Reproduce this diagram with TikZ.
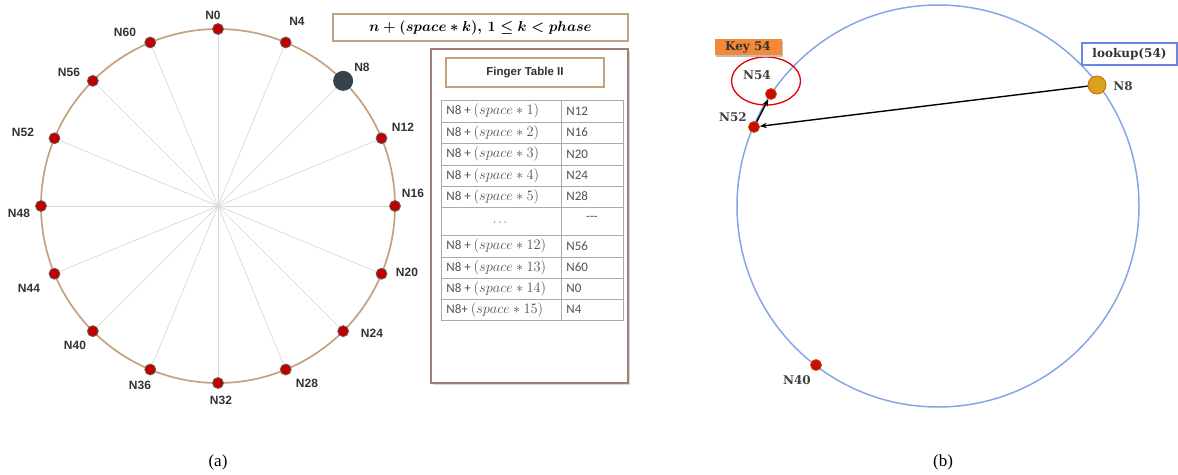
\documentclass[tikz,border=0pt]{standalone}
\usepackage{amsmath}
\usepackage{fontspec}
\setmainfont{Liberation Serif}
\setsansfont{Liberation Sans}
\newfontfamily\cellfont{Carlito}
\newfontfamily\chordserif{DejaVu Serif}
\usetikzlibrary{shapes.geometric,arrows.meta}

\definecolor{ringtan}{HTML}{C4A27E}
\definecolor{spokegray}{HTML}{D3DAD7}
\definecolor{dotred}{HTML}{C00000}
\definecolor{slate}{HTML}{36424C}
\definecolor{framerose}{HTML}{A67C78}
\definecolor{ringblue}{HTML}{86A6E4}
\definecolor{keyorange}{HTML}{F4893A}
\definecolor{lookgold}{HTML}{D8A21C}
\definecolor{cellgray}{HTML}{A9A9A9}

\newcommand{\phaserule}{$\boldsymbol{n+(space\ast k),\,1\leq k<phase}$}
\newcommand{\stepcell}[1]{N8 + {\fontsize{14}{15}\selectfont$(space\ast#1)$}}

\tikzset{
  ringdot/.style={circle,fill=dotred,draw=black!60,line width=0.8pt,
    inner sep=0pt,minimum size=11pt},
  hotdot/.style={circle,fill=slate,inner sep=0pt,minimum size=20pt},
  ringlabel/.style={font=\sffamily\bfseries\fontsize{12}{14}\selectfont,
    text=black!80,inner sep=0pt},
  spoke/.style={draw=spokegray,line width=0.7pt},
  tanbox/.style={draw=ringtan,line width=1.5pt,inner sep=0pt},
  celltext/.style={font=\cellfont\fontsize{13}{15}\selectfont,text=black!68,
    inner sep=0pt},
  chorddot/.style={circle,fill=dotred!90!orange,draw=orange!70!red!80!black,
    line width=0.8pt,inner sep=0pt,minimum size=11pt},
  chordlabel/.style={font=\chordserif\bfseries\fontsize{12}{14}\selectfont,
    text=black!75,inner sep=0pt},
  softshadow/.style={preaction={fill=black!#1,
    transform canvas={xshift=1.5pt,yshift=-1.5pt}}},
  hop/.style={-{Stealth[length=7pt,width=5.5pt]},line width=1.4pt},
  caption/.style={font=\fontsize{17}{19}\selectfont,inner sep=0pt}
}

\begin{document}
\begin{tikzpicture}[x=1pt,y=-1pt,line width=0.8pt,>=stealth]
  \useasboundingbox (0,0) rectangle (1178,474);

  % (a) sixteen nodes on the ring
  \coordinate (hub) at (218,206);
  \draw[ringtan,line width=1.7pt] (hub) circle[radius=177];
  \foreach \k/\sty/\lx/\ly in {0/ringdot/213/15, 4/ringdot/297/21,
      8/hotdot/362/67, 12/ringdot/403/127, 16/ringdot/413/193,
      20/ringdot/407/272, 24/ringdot/372/333, 28/ringdot/307/383,
      32/ringdot/221/400, 36/ringdot/140/385, 40/ringdot/75/345,
      44/ringdot/29/288, 48/ringdot/19/213, 52/ringdot/23/132,
      56/ringdot/69/72, 60/ringdot/125/32}{
    \node[\sty] (N\k) at ({218+177*sin(\k*5.625)},{206-177*cos(\k*5.625)}) {};
    \draw[spoke] (hub) -- (N\k);
    \node[ringlabel] (L\k) at (\lx,\ly) {N\k};
  }

  % formula and finger table
  \node[draw=framerose,line width=2.4pt,minimum width=197pt,minimum height=334pt,
    inner sep=0pt,fill=white,softshadow=15] (frame) at (529.5,216) {};
  \node[tanbox,minimum width=158pt,minimum height=29pt,
    font=\sffamily\bfseries\fontsize{11.5}{13}\selectfont,text=black!80]
    (title) at (525,72.5) {Finger Table II};
  \node[tanbox,minimum width=295pt,minimum height=27pt,
    font=\fontsize{15}{17}\selectfont] (phaserule) at (480.5,27.5) {\phaserule};
  \draw[cellgray] (441,100) rectangle (623,320);
  \draw[cellgray] (561,100) -- (561,320);
  \foreach \yy in {122,143,165,186,207,235,257,278,299}
    \draw[cellgray] (441,\yy) -- (623,\yy);
  \foreach \r/\ym/\lt/\rt in {1/111/1/N12, 2/132.5/2/N16, 3/154/3/N20,
      4/175.5/4/N24, 5/196.5/5/N28, 7/246/12/N56, 8/267.5/13/N60,
      9/288.5/14/N0}{
    \node[celltext,anchor=west] (row\r l) at (446,\ym) {\stepcell{\lt}};
    \node[celltext,anchor=west] (row\r r) at (566,\ym) {\rt};
  }
  \node[celltext] (row6l) at (501,223) {$\cdots$};
  \node[celltext] (row6r) at (592,218) {---};
  \node[celltext,anchor=west] (row10l) at (446,309.5)
    {N8+ {\fontsize{14}{15}\selectfont$(space\ast15)$}};
  \node[celltext,anchor=west] (row10r) at (566,309.5) {N4};

  % (b) lookup on the ring
  \coordinate (hub2) at (938,206);
  \draw[ringblue,line width=1.5pt] (hub2) circle[radius=201];
  \node[circle,fill=lookgold,draw=orange!80!black,line width=0.8pt,inner sep=0pt,
    minimum size=18pt] (b8) at (1097,85) {};
  \node[chorddot] (b52) at (754,127) {};
  \node[chorddot] (b54) at (771,94) {};
  \node[chorddot] (b40) at (816,365) {};
  \node[chordlabel] (lb8) at (1123,86) {N8};
  \node[chordlabel] (lb52) at (733,117) {N52};
  \node[chordlabel] (lb54) at (757,75) {N54};
  \node[chordlabel] (lb40) at (797,380) {N40};
  \node[draw=red!90!black,line width=1.3pt,ellipse,minimum width=69pt,
    minimum height=48pt,inner sep=0pt] (hit) at (766,81) {};
  \node[fill=keyorange,minimum width=67pt,minimum height=16pt,inner sep=0pt,
    softshadow=25,
    font=\chordserif\bfseries\fontsize{12}{14}\selectfont,text=black!80]
    (key) at (748,47) {Key 54};
  \node[draw=ringblue!80!blue,line width=1.2pt,fill=white,minimum width=95pt,
    minimum height=22pt,inner sep=0pt,
    font=\chordserif\bfseries\fontsize{12}{14}\selectfont,text=black!80]
    (lookup) at (1129.5,54) {lookup(54)};
  \draw[hop] (b8) -- (b52);
  \draw[hop] (b52) -- (b54);

  % captions
  \node[caption] (capa) at (218,462) {(a)};
  \node[caption] (capb) at (943,462) {(b)};
\end{tikzpicture}
\end{document}
